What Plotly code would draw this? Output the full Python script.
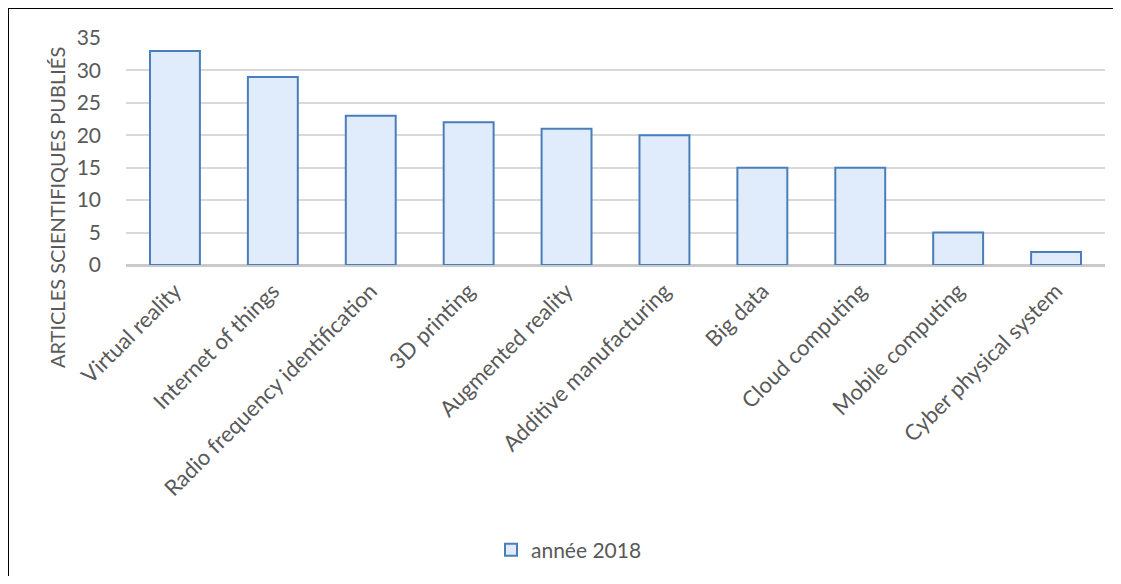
import plotly.graph_objects as go

categories = ["Virtual reality", "Internet of things", "Radio frequency identification",
              "3D printing", "Augmented reality", "Additive manufacturing", "Big data",
              "Cloud computing", "Mobile computing", "Cyber physical system"]
values = [33, 29, 23, 22, 21, 20, 15, 15, 5, 2]
series_name = "année 2018"
y_title = "ARTICLES SCIENTIFIQUES PUBLIÉS"
y_ticks = [0, 5, 10, 15, 20, 25, 30, 35]

OFF = 8  # page body margin
W, H = 1121 - 2 * OFF, 584 - 2 * OFF  # avoid scrollbars
# plot area in screen px
sx0, sx1, sy_top, sy_bot = 126, 1105, 38, 265
L = sx0 - OFF
R = max(W - (sx1 - OFF), 0)
T = sy_top - OFF
B = H - (sy_bot - OFF)
pw, ph = W - L - R, H - T - B

def px2x(p):
    return (p - OFF - L) / pw

def py2y(p):
    return ((sy_bot - OFF) - (p - OFF)) / ph

font = "Lato, 'Open Sans', sans-serif"
gray = "#595959"

fig = go.Figure()
fig.add_trace(go.Bar(
    x=categories, y=values, name=series_name,
    marker=dict(color="#e0ebfc", line=dict(color="#4a7ebb", width=2)),
    showlegend=True,
))

fig.update_layout(
    width=W, height=H,
    margin=dict(l=L, r=R, t=T, b=B, autoexpand=False),
    paper_bgcolor="white", plot_bgcolor="white",
    bargap=0.49,
    font=dict(family=font, color=gray, size=21),
    xaxis=dict(tickangle=-45, tickfont=dict(size=22, color=gray), showgrid=False,
               showline=False, ticks="", automargin=False, ticklabelstandoff=8),
    yaxis=dict(range=[0, 35], tickvals=y_ticks, tickfont=dict(size=21, color=gray),
               showgrid=True, gridcolor="#d9d9d9", gridwidth=1.5,
               zeroline=True, zerolinecolor="#cacaca", zerolinewidth=2.5,
               showline=False, ticks="", ticklabelstandoff=24, automargin=False),
    legend=dict(orientation="h", x=px2x(569), xanchor="center", y=py2y(550), yanchor="middle",
                font=dict(size=21, color=gray), itemwidth=30),
    annotations=[dict(text=y_title, textangle=-90, xref="paper", yref="paper",
                      x=px2x(57), y=py2y(208), xanchor="center", yanchor="middle",
                      showarrow=False, font=dict(size=20, color=gray))],
    shapes=[dict(type="rect", xref="paper", yref="paper",
                 x0=px2x(8), x1=px2x(1140), y0=py2y(620), y1=py2y(8),
                 line=dict(color="black", width=2), fillcolor="rgba(0,0,0,0)", layer="below")],
)

fig.write_html("out.html")
